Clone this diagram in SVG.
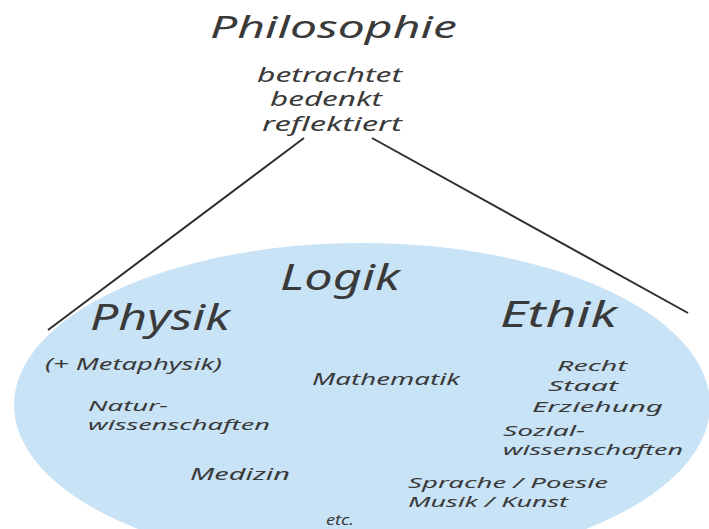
<svg xmlns="http://www.w3.org/2000/svg" width="709" height="529" viewBox="0 0 709 529">
<style>
text{font-family:"Noto Sans","DejaVu Sans",sans-serif;font-style:italic;fill:#3a3a3a}
.t1{font-size:30px}
.t2{font-size:19px}
.t3{font-size:36px}
.t4{font-size:17px}
.t5{font-size:15px}
.conn{stroke:#2e2e2e;stroke-width:2;fill:none}
</style>
<rect width="709" height="529" fill="#ffffff"/>
<g id="field">
<ellipse cx="362" cy="405" rx="348" ry="162" fill="#c8e2f6"/>
</g>
<g id="connectors">
<line class="conn" x1="304" y1="138" x2="48" y2="330"/>
<line class="conn" x1="372" y1="138" x2="688" y2="313"/>
</g>
<g id="philosophie">
<text class="t1" x="210" y="38" textLength="247" lengthAdjust="spacingAndGlyphs">Philosophie</text>
<text class="t2" x="257" y="82" textLength="145" lengthAdjust="spacingAndGlyphs">betrachtet</text>
<text class="t2" x="270" y="106" textLength="112" lengthAdjust="spacingAndGlyphs">bedenkt</text>
<text class="t2" x="262" y="131" textLength="140" lengthAdjust="spacingAndGlyphs">reflektiert</text>
</g>
<g id="logik">
<text class="t3" x="280" y="290" textLength="120" lengthAdjust="spacingAndGlyphs">Logik</text>
<text class="t4" x="312" y="385" textLength="148" lengthAdjust="spacingAndGlyphs">Mathematik</text>
<text class="t5" x="326" y="525" textLength="28" lengthAdjust="spacingAndGlyphs">etc.</text>
</g>
<g id="physik">
<text class="t3" x="90" y="330" textLength="140" lengthAdjust="spacingAndGlyphs">Physik</text>
<text class="t4" x="45" y="370" textLength="177" lengthAdjust="spacingAndGlyphs">(+ Metaphysik)</text>
<text class="t5" x="88" y="411" textLength="80" lengthAdjust="spacingAndGlyphs">Natur-</text>
<text class="t5" x="88" y="430" textLength="182" lengthAdjust="spacingAndGlyphs">wissenschaften</text>
<text class="t4" x="190" y="480" textLength="100" lengthAdjust="spacingAndGlyphs">Medizin</text>
</g>
<g id="ethik">
<text class="t3" x="500" y="327" textLength="117" lengthAdjust="spacingAndGlyphs">Ethik</text>
<text class="t5" x="557" y="371" textLength="70" lengthAdjust="spacingAndGlyphs">Recht</text>
<text class="t5" x="548" y="391" textLength="70" lengthAdjust="spacingAndGlyphs">Staat</text>
<text class="t5" x="532" y="412" textLength="131" lengthAdjust="spacingAndGlyphs">Erziehung</text>
<text class="t5" x="503" y="436" textLength="82" lengthAdjust="spacingAndGlyphs">Sozial-</text>
<text class="t5" x="503" y="455" textLength="180" lengthAdjust="spacingAndGlyphs">wissenschaften</text>
<text class="t5" x="408" y="488" textLength="200" lengthAdjust="spacingAndGlyphs">Sprache / Poesie</text>
<text class="t5" x="408" y="507" textLength="160" lengthAdjust="spacingAndGlyphs">Musik / Kunst</text>
</g>
</svg>
